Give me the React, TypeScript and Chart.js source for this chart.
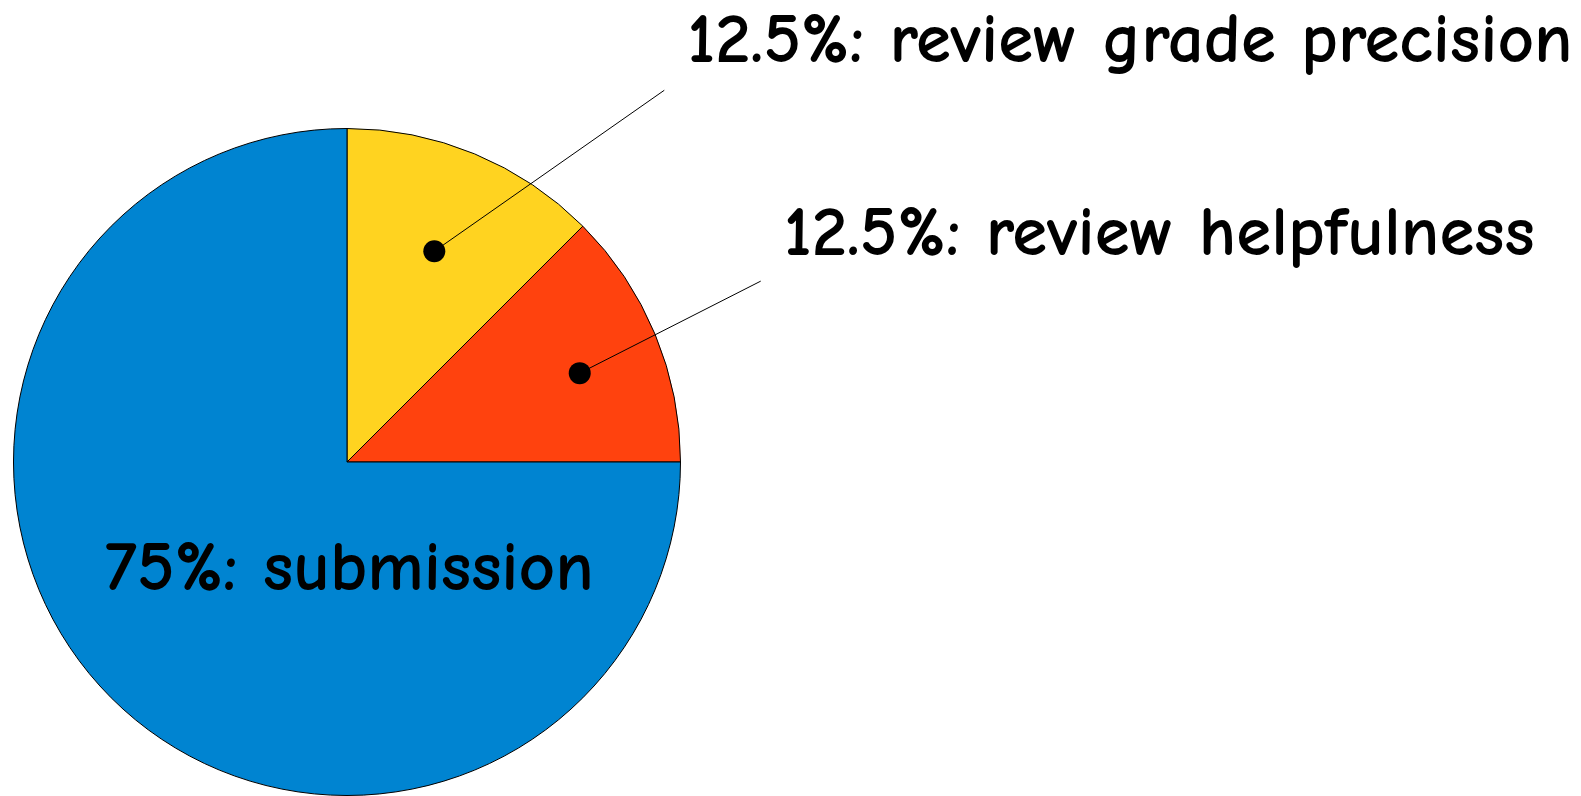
import React, { useEffect, useRef } from "react";
import { Chart, registerables } from "chart.js";

Chart.register(...registerables);

const categories = ["review grade precision", "review helpfulness", "submission"];
const shares = [12.5, 12.5, 75];
const colors = ["#ffd320", "#ff420e", "#0084d1"];

const FONT = "'Comic Sans MS', 'Comic Neue', 'Lato', 'DejaVu Sans', sans-serif";

const labelPlugin = {
  id: "calloutLabels",
  afterDatasetsDraw(chart: any) {
    const ctx = chart.ctx;
    const meta = chart.getDatasetMeta(0);
    const ds = chart.data.datasets[0];
    const labels = chart.data.labels as string[];
    ctx.save();
    ctx.fillStyle = "#000";
    ctx.strokeStyle = "#000";
    ctx.textBaseline = "alphabetic";
    ctx.textAlign = "left";
    ctx.font = `bold 71px ${FONT}`;
    // callouts for the small slices
    const cfg = [
      { rf: 0.684, da: 0, lx: 230, ly: -161, tx: 253, ty: -189 },
      { rf: 0.747, da: 1.6, lx: 181, ly: -92, tx: 204, ty: -118 },
    ];
    meta.data.forEach((arc: any, i: number) => {
      const { x, y, startAngle, endAngle, outerRadius } = arc.getProps(
        ["x", "y", "startAngle", "endAngle", "outerRadius"],
        true
      );
      const text = `${ds.data[i]}%: ${labels[i]}`;
      if (i < 2) {
        const c = cfg[i];
        const mid = (startAngle + endAngle) / 2 + (c.da * Math.PI) / 180;
        const px = x + Math.cos(mid) * outerRadius * c.rf;
        const py = y + Math.sin(mid) * outerRadius * c.rf;
        ctx.lineWidth = 1;
        ctx.beginPath();
        ctx.moveTo(px, py);
        ctx.lineTo(px + c.lx, py + c.ly);
        ctx.stroke();
        ctx.beginPath();
        ctx.arc(px, py, 11, 0, Math.PI * 2);
        ctx.fill();
        ctx.fillText(text, px + c.tx, py + c.ty);
      } else {
        ctx.fillText(text, x - 242, y + 128);
      }
    });
    ctx.restore();
  },
};

export default function App() {
  const ref = useRef<HTMLCanvasElement>(null);
  useEffect(() => {
    document.body.style.margin = "0";
    const chart = new Chart(ref.current!, {
      type: "pie",
      data: {
        labels: categories,
        datasets: [
          {
            data: shares,
            backgroundColor: colors,
            borderColor: "#000",
            borderWidth: 1,
          },
        ],
      },
      options: {
        animation: false,
        responsive: false,
        layout: { padding: { left: 13, right: 900, top: 128, bottom: 0 } },
        plugins: {
          legend: { display: false },
          tooltip: { enabled: false },
        },
      },
      plugins: [labelPlugin],
    });
    return () => chart.destroy();
  }, []);
  return (
    <div style={{ width: 1581, height: 796 }}>
      <canvas ref={ref} width={1581} height={796} style={{ display: "block" }} />
    </div>
  );
}
